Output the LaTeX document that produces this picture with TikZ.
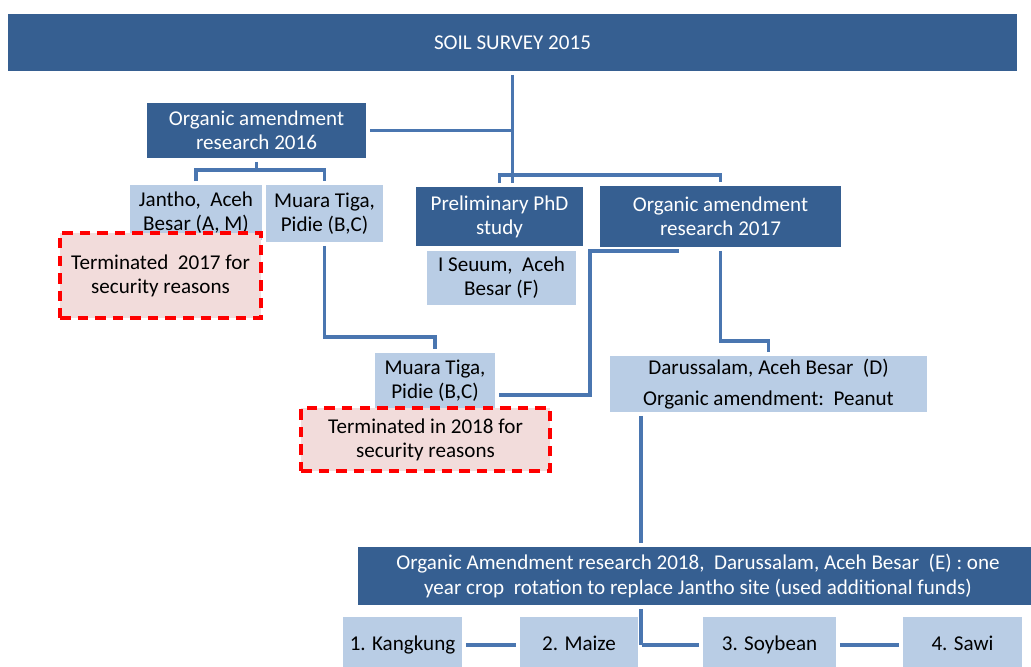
\documentclass[tikz,border=0pt]{standalone}
\usepackage{fontspec}
\setmainfont{Carlito}
\usepackage{xcolor}
\usetikzlibrary{calc}
\definecolor{darkbox}{HTML}{365F91}
\definecolor{lightbox}{HTML}{B9CDE5}
\definecolor{linkblue}{HTML}{4A76B0}
\definecolor{stopfill}{HTML}{F2DCDB}

\begin{document}
\begin{tikzpicture}[x=0.02cm, y=-0.02cm, font=\fontsize{12}{13.7}\selectfont,
	boxdark/.style={fill=darkbox, text=white, align=center, inner sep=0pt, outer sep=2.2pt},
	boxlight/.style={fill=lightbox, text=black, align=center, inner sep=0pt, outer sep=2.2pt},
	boxcrop/.style={boxlight, text height=8.5pt, text depth=2.5pt},
	boxstop/.style={fill=stopfill, draw=red, line width=2.3pt, dash pattern=on 6pt off 4pt, align=center, inner sep=0pt},
	conn/.style={draw=linkblue, line width=2pt},
	wh/.style 2 args={minimum width=#1*0.02cm, minimum height=#2*0.02cm}]
	\useasboundingbox (0,0) rectangle (1031,666);

	\node[boxdark, wh={1009}{57}]	(survey) at (512.5,42.5) {SOIL SURVEY 2015};

	\node[boxdark, wh={219}{55}]	(org16) at (256.5,130.5) {Organic amendment\\research 2016};
	\node[boxlight, wh={132}{55}]	(jantho) at (196,212.5) {Jantho,\ \ Aceh\\Besar (A, M)};
	\node[boxlight, wh={117}{57}]	(muara) at (324.5,213.5) {Muara Tiga,\\Pidie (B,C)};
	\node[boxstop, wh={201}{85}]	(term17) at (160.5,275.5) {Terminated\ \ 2017 for\\security reasons};

	\node[boxdark, wh={167}{59}]	(prelim) at (499.5,216.5) {Preliminary PhD\\study};
	\node[boxlight, wh={149}{54}]	(seuum) at (501.5,278) {I Seuum,\ \ Aceh\\Besar (F)};
	\node[boxdark, wh={241}{61}]	(org17) at (720.5,216.5) {Organic amendment\\research 2017};

	\node[boxlight, wh={120}{55}]	(muara2) at (435,380.5) {Muara Tiga,\\Pidie (B,C)};
	\node[boxstop, wh={249}{63}]	(term18) at (425.5,439.5) {Terminated in 2018 for\\security reasons};
	\node[boxlight, wh={317}{56}]	(darus) at (768.5,384) {Darussalam, Aceh Besar\ \ (D)\\[4pt]Organic amendment:\ \ Peanut};

	\node[boxdark, wh={680}{58}]	(org18) at (698,576) {Organic Amendment research 2018,\ \ Darussalam, Aceh Besar\ \ (E) : one\\year crop\ \ rotation to replace Jantho site (used additional funds)};
	\node[boxcrop, wh={119}{56}]	(kang) at (402.5,645) {1. Kangkung};
	\node[boxcrop, wh={118}{56}]	(maize) at (579,645) {2. Maize};
	\node[boxcrop, wh={133}{56}]	(soy) at (769.5,645) {3. Soybean};
	\node[boxcrop, wh={119}{56}]	(sawi) at (962.5,645) {4. Sawi};

	\coordinate (j16) at (256.5,170);
	\coordinate (j17) at (610,175);
	\coordinate (jm) at (380,337);
	\coordinate (jd) at (745,341);
	\coordinate (c17) at (590,320);
	\coordinate (vx) at (641,500);

	\draw[conn]	(survey.south) -- (survey.south |- prelim.north);
	\draw[conn]	(org16.east) -- (survey.south |- org16.east);
	\draw[conn]	(prelim.north) |- (j17) -| (org17.north);
	\draw[conn]	(org16.south) -- (j16);
	\draw[conn]	(jantho.north) |- (j16) -| (muara.north);
	\draw[conn]	(muara.south) |- (jm) -| (muara2.north);
	\draw[conn]	($(org17.south)+(-42,0)$) -| (c17) |- ($(muara2.east)+(0,14.5)$);
	\draw[conn]	(org17.south) |- (jd) -| (darus.north);
	\draw[conn]	(darus.south -| vx) -- (org18.north -| vx);
	\draw[conn]	(org18.south -| vx) -- (vx |- maize.east);
	\draw[conn]	(kang.east) -- (maize.west);
	\draw[conn]	(maize.east) -- (soy.west);
	\draw[conn]	(soy.east) -- (sawi.west);
\end{tikzpicture}
\end{document}
